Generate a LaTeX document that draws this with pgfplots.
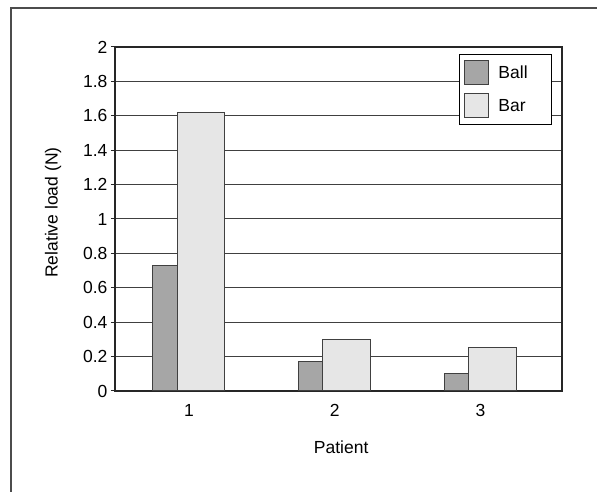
\documentclass[border=0pt]{standalone}
\usepackage{pgfplots}
\pgfplotsset{compat=1.18}
\usepackage{fontspec}
\setmainfont{Liberation Sans}
\definecolor{ballc}{HTML}{A6A6A6}
\definecolor{barc}{HTML}{E6E6E6}
\definecolor{edgec}{HTML}{404040}
\newcommand{\chfont}{\fontsize{17.5}{20}\selectfont}
\begin{document}
\begin{tikzpicture}
\useasboundingbox (0,0) rectangle (597pt,492pt);
\draw[color=black!70, line width=1.5pt] (11pt,0) -- (11pt,484pt) -- (597pt,484pt);
\begin{axis}[
  at={(115pt,101pt)}, anchor=south west,
  scale only axis, width=447pt, height=344pt,
  xmin=0.492, xmax=3.559, ymin=0, ymax=2,
  xtick={1,2,3}, ytick={0,0.2,...,2.01},
  ytick pos=left,
  xtick style={draw=none},
  ytick style={color=black!85, line width=1pt},
  tick align=outside, major tick length=4pt,
  ymajorgrids, grid style={color=black!75, line width=1pt},
  axis line style={color=black!85, line width=1.2pt},
  /pgf/number format/assume math mode=true,
  yticklabel style={/pgf/number format/fixed, /pgf/number format/precision=1},
  font=\chfont,
  ticklabel style={font=\chfont},
  xticklabel style={yshift=-6pt},
  yticklabel style={xshift=0pt},
  xlabel={Patient}, ylabel={Relative load (N)},
  xlabel style={at={(axis description cs:0.506,-0.163)}, anchor=center, font=\chfont},
  ylabel style={at={(axis description cs:-0.1387,0.5186)}, anchor=center, font=\chfont},
  legend style={at={(0.978,0.98)}, anchor=north east, draw=black, line width=1pt,
    fill=white, font=\chfont, row sep=8pt,
    inner xsep=5pt, inner ysep=6pt, nodes={inner sep=2pt}, cells={anchor=west}},
  legend image code/.code={\draw[#1, line width=1pt] (0pt,-12pt) rectangle (24pt,12pt); \path (31pt,0pt);},
  legend cell align=left,
]
\addplot[ybar, bar width=0.165, bar shift=-0.165, fill=ballc, draw=edgec, line width=1pt]
  coordinates {(1,0.73) (2,0.17) (3,0.10)};
\addlegendentry{Ball\rule{17pt}{0pt}}
\addplot[ybar, bar width=0.329, bar shift=0.082, fill=barc, draw=edgec, line width=1pt]
  coordinates {(1,1.62) (2,0.30) (3,0.25)};
\addlegendentry{Bar\rule{17pt}{0pt}}
\end{axis}
\end{tikzpicture}
\end{document}
